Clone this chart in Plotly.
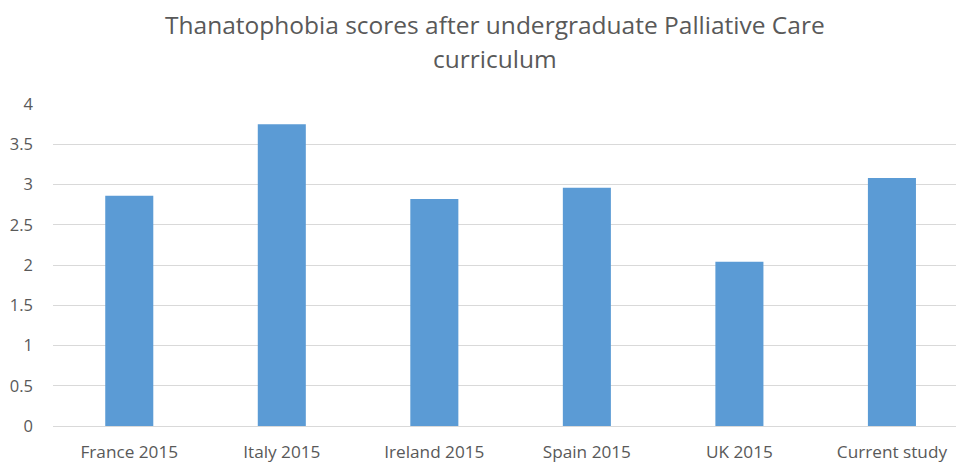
import plotly.graph_objects as go

categories = ["France 2015", "Italy 2015", "Ireland 2015", "Spain 2015", "UK 2015", "Current study"]
scores = [2.86, 3.75, 2.82, 2.96, 2.04, 3.08]
y_ticks = [0, 0.5, 1, 1.5, 2, 2.5, 3, 3.5, 4]
y_tick_text = ["0", "0.5", "1", "1.5", "2", "2.5", "3", "3.5", "4"]
title_lines = ["Thanatophobia scores after undergraduate Palliative Care", "curriculum"]

W, H = 956, 462
L, T, B = 53, 103.5, 36

fig = go.Figure(go.Bar(
    x=list(range(len(categories))), y=scores,
    marker=dict(color="#5b9bd5", line=dict(width=0)),
    width=0.315,
    hoverinfo="x+y",
))

for i, line in enumerate(title_lines):
    fig.add_annotation(
        text=line, xref="paper", yref="paper",
        x=(495 - L) / (W - L), xanchor="center",
        y=1 + (T - (24 + 34 * i)) / (H - T - B), yanchor="middle",
        showarrow=False,
        font=dict(size=24.5, color="#595959", family="Open Sans"),
    )

fig.update_layout(
    width=W, height=H,
    margin=dict(l=L, r=0, t=T, b=B),
    paper_bgcolor="white", plot_bgcolor="white",
    font=dict(family="Open Sans", color="#595959"),
    showlegend=False,
    xaxis=dict(
        range=[-0.5, 5.42], tickmode="array",
        tickvals=list(range(len(categories))), ticktext=categories,
        showgrid=False, zeroline=False, showline=False, ticks="",
        tickfont=dict(size=17.2, color="#595959"),
        ticklabelstandoff=14,
    ),
    yaxis=dict(
        range=[0, 4], tickmode="array", tickvals=y_ticks, ticktext=y_tick_text,
        showgrid=True, gridcolor="#d9d9d9", gridwidth=1,
        zeroline=True, zerolinecolor="#d9d9d9", zerolinewidth=1,
        showline=False, ticks="",
        tickfont=dict(size=16.5, color="#595959"),
        ticklabelstandoff=19,
    ),
)

fig.write_html("out.html", config={"displayModeBar": False},
               post_script="document.body.style.margin='0';")
